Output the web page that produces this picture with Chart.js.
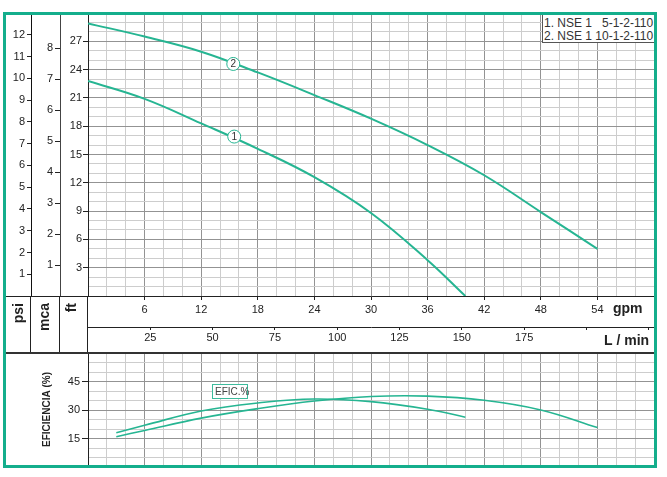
<!DOCTYPE html>
<html>
<head>
<meta charset="utf-8">
<script src="https://cdn.jsdelivr.net/npm/chart.js@4.4.1/dist/chart.umd.min.js"></script>
<style>
  body { margin: 0; background: #fff; width: 667px; height: 477px; overflow: hidden; position: relative; }
  #frame { position: absolute; left: 3px; top: 12px; width: 648px; height: 450px; border: 3px solid #14ae8c; z-index: 5; pointer-events: none; }
  #mainChart { position: absolute; left: 6px; top: 13px; }
  #effChart { position: absolute; left: 6px; top: 352px; }
  #legendBox { position: absolute; left: 542px; top: 15px; width: 111px; height: 25px; background: #fff;
    border-left: 1px solid #555; border-bottom: 1px solid #555; z-index: 3;
    font: 12px "Liberation Sans", Arial, sans-serif; color: #333; line-height: 13px; padding: 2px 0 0 1px; white-space: pre; }
  #eficBox { position: absolute; left: 212px; top: 384px; width: 32px; height: 13px; background: #fff;
    border: 1px solid #3dbb9c; z-index: 3; font: 10px "Liberation Sans", Arial, sans-serif; color: #444;
    line-height: 14px; padding-left: 2px; white-space: nowrap; }
</style>
</head>
<body>
<canvas id="mainChart" width="648" height="339"></canvas>
<canvas id="effChart" width="648" height="115"></canvas>
<div id="legendBox">1. NSE 1   5-1-2-110
2. NSE 1 10-1-2-110</div>
<div id="eficBox">EFIC.%</div>
<div id="frame"></div>
<script>
// curve names (legend)
const curveNames = ['NSE 1 5-1-2-110', 'NSE 1 10-1-2-110'];

// head curves: flow in gpm, head in ft
const gpm1 = [0, 6, 12, 18, 24, 30, 36, 40];
const head1 = [22.8, 20.9, 18.3, 15.6, 12.6, 8.8, 3.8, 0];
const gpm2 = [0, 6, 12, 18, 24, 30, 36, 42, 48, 54];
const head2 = [28.9, 27.5, 25.9, 23.7, 21.3, 18.8, 16.0, 12.8, 8.9, 5.0];

// circled curve numbers sit on the curves at these points
const markerText = ['1', '2'];
const markerGpm = [15.5, 15.4];
const markerHead = [16.9, 24.6];

// efficiency curves (%)
const effGpm1 = [3, 6, 12, 18, 24, 30, 36, 40];
const eff1 = [18.1, 22.0, 29.6, 33.8, 35.9, 34.5, 30.5, 26.3];
const effGpm2 = [3, 6, 12, 18, 24, 30, 36, 42, 48, 54];
const eff2 = [16.0, 19.3, 25.8, 30.8, 34.8, 37.2, 37.4, 35.2, 30.1, 20.8];

// axis ranges
const gpmMax = 60;
const ftMax = 30;
const effMax = 60.7;
const lminMax = gpmMax * 3.78541;
const psiMax = ftMax / 2.30666;
const mcaMax = ftMax / 3.28084;

const GREEN = '#26b592';
const DARK_GRID = '#939393';
const LIGHT_GRID = '#cdcdcd';
const INK = '#222';
const NONE = 'rgba(0,0,0,0)';

Chart.defaults.font.family = '"Liberation Sans", Arial, sans-serif';
Chart.defaults.font.size = 11;
Chart.defaults.color = INK;

function toPoints(xs, ys) {
    return xs.map((x, i) => ({ x: x, y: ys[i] }));
}

// force axis box sizes so the columns line up with the picture
function fixSize(w, h) {
    return function (scale) {
        if (w !== null) scale.width = w;
        if (h !== null) scale.height = h;
        scale.paddingTop = 0;
        scale.paddingBottom = 0;
        scale.paddingLeft = 0;
        scale.paddingRight = 0;
    };
}

const curveLine = {
    borderColor: GREEN,
    borderWidth: 2,
    pointRadius: 0,
    fill: false,
    tension: 0.4
};

// extra lines, cell labels and circled numbers
const mainDecor = {
    id: 'mainDecor',
    afterDraw(chart) {
        const ctx = chart.ctx;
        const area = chart.chartArea;
        const sc = chart.scales;
        ctx.save();
        ctx.strokeStyle = INK;
        ctx.lineWidth = 1;
        ctx.beginPath();
        [sc.yPsi.right, sc.yMca.right, sc.y.right].forEach(x => {
            const px = Math.round(x) - 0.5;
            ctx.moveTo(px, area.bottom);
            ctx.lineTo(px, chart.height);
        });
        ctx.moveTo(0, Math.round(area.bottom) + 0.5);
        ctx.lineTo(area.left, Math.round(area.bottom) + 0.5);
        ctx.stroke();

        // unit cells
        ctx.fillStyle = INK;
        ctx.font = 'bold 14px "Liberation Sans", Arial, sans-serif';
        ctx.textAlign = 'right';
        ctx.textBaseline = 'middle';
        [['psi', 13.5], ['mca', 39], ['ft', 66]].forEach(([t, x]) => {
            ctx.save();
            ctx.translate(x, area.bottom + 7);
            ctx.rotate(-Math.PI / 2);
            ctx.fillText(t, 0, 0);
            ctx.restore();
        });
        ctx.textAlign = 'left';
        ctx.textBaseline = 'alphabetic';
        ctx.fillText('gpm', 607, 300);
        ctx.fillText('L / min', 598, 332);

        // circled curve numbers
        ctx.font = '10px "Liberation Sans", Arial, sans-serif';
        ctx.textAlign = 'center';
        ctx.textBaseline = 'middle';
        markerText.forEach((t, i) => {
            const x = sc.x.getPixelForValue(markerGpm[i]);
            const y = sc.y.getPixelForValue(markerHead[i]);
            ctx.beginPath();
            ctx.arc(x, y, 6.5, 0, Math.PI * 2);
            ctx.fillStyle = '#fff';
            ctx.fill();
            ctx.strokeStyle = GREEN;
            ctx.lineWidth = 1;
            ctx.stroke();
            ctx.fillStyle = '#333';
            ctx.fillText(t, x, y + 0.5);
        });
        ctx.restore();
    }
};

new Chart(document.getElementById('mainChart'), {
    type: 'line',
    data: {
        datasets: [
            Object.assign({ label: curveNames[0], data: toPoints(gpm1, head1) }, curveLine),
            Object.assign({ label: curveNames[1], data: toPoints(gpm2, head2) }, curveLine)
        ]
    },
    options: {
        responsive: false,
        animation: false,
        layout: { padding: 0, autoPadding: false },
        plugins: { legend: { display: false }, tooltip: { enabled: false } },
        scales: {
            x: {
                type: 'linear', position: 'bottom', weight: 0,
                min: 0, max: gpmMax,
                afterFit: fixSize(null, 31),
                border: { display: true, color: INK },
                grid: {
                    color: c => (c.tick && c.tick.value % 6 === 0) ? DARK_GRID : LIGHT_GRID,
                    tickColor: c => (c.tick && c.tick.value % 6 === 0 && c.tick.value > 0 && c.tick.value < gpmMax) ? INK : NONE,
                    tickLength: 4
                },
                ticks: {
                    stepSize: 2, includeBounds: false, autoSkip: false, maxRotation: 0, padding: 3,
                    callback: v => (v % 6 === 0 && v > 0 && v < gpmMax) ? String(v) : ''
                }
            },
            xL: {
                type: 'linear', position: 'bottom', weight: 1,
                min: 0, max: lminMax,
                afterFit: fixSize(null, 25),
                border: { display: true, color: INK },
                grid: {
                    drawOnChartArea: false,
                    tickColor: c => (c.tick && c.tick.value > 0) ? INK : NONE,
                    tickLength: 3
                },
                ticks: {
                    stepSize: 25, includeBounds: false, autoSkip: false, maxRotation: 0, padding: 1,
                    callback: v => (v > 0 && v <= 175) ? String(v) : ''
                }
            },
            y: {
                type: 'linear', position: 'left', weight: 0,
                min: 0, max: ftMax,
                afterFit: fixSize(28, null),
                border: { display: true, color: INK },
                grid: {
                    color: c => (c.tick && c.tick.value % 3 === 0) ? DARK_GRID : LIGHT_GRID,
                    tickColor: c => (c.tick && c.tick.value % 3 === 0 && c.tick.value > 0 && c.tick.value < ftMax) ? INK : NONE,
                    tickLength: 5
                },
                ticks: {
                    stepSize: 1, includeBounds: false, autoSkip: false, padding: 1,
                    callback: v => (v % 3 === 0 && v > 0 && v < ftMax) ? String(v) : ''
                }
            },
            yMca: {
                type: 'linear', position: 'left', weight: 1,
                min: 0, max: mcaMax,
                afterFit: fixSize(29, null),
                border: { display: true, color: '#444' },
                grid: {
                    drawOnChartArea: false,
                    tickColor: c => (c.tick && c.tick.value > 0 && c.tick.value <= 8) ? INK : NONE,
                    tickLength: 5
                },
                ticks: {
                    stepSize: 1, includeBounds: false, autoSkip: false, padding: 2,
                    callback: v => (v > 0 && v <= 8) ? String(v) : ''
                }
            },
            yPsi: {
                type: 'linear', position: 'left', weight: 2,
                min: 0, max: psiMax,
                afterFit: fixSize(25, null),
                border: { display: true, color: '#111' },
                grid: {
                    drawOnChartArea: false,
                    tickColor: c => (c.tick && c.tick.value > 0 && c.tick.value <= 12) ? INK : NONE,
                    tickLength: 4
                },
                ticks: {
                    stepSize: 1, includeBounds: false, autoSkip: false, padding: 2,
                    callback: v => (v > 0 && v <= 12) ? String(v) : ''
                }
            }
        }
    },
    plugins: [mainDecor]
});

// thick separator on top of the efficiency panel
const effDecor = {
    id: 'effDecor',
    afterDraw(chart) {
        const ctx = chart.ctx;
        ctx.save();
        ctx.fillStyle = '#333';
        ctx.fillRect(0, 0, chart.width, 2);
        ctx.restore();
    }
};

const effLine = Object.assign({}, curveLine, { borderWidth: 1.6 });

new Chart(document.getElementById('effChart'), {
    type: 'line',
    data: {
        datasets: [
            Object.assign({ label: curveNames[0], data: toPoints(effGpm1, eff1) }, effLine),
            Object.assign({ label: curveNames[1], data: toPoints(effGpm2, eff2) }, effLine)
        ]
    },
    options: {
        responsive: false,
        animation: false,
        layout: { padding: 0, autoPadding: false },
        plugins: { legend: { display: false }, tooltip: { enabled: false } },
        scales: {
            x: {
                type: 'linear', position: 'bottom',
                min: 0, max: gpmMax,
                afterFit: fixSize(null, 0),
                border: { display: false },
                grid: {
                    color: c => (c.tick && c.tick.value % 6 === 0) ? DARK_GRID : LIGHT_GRID,
                    drawTicks: false
                },
                ticks: { display: false, stepSize: 2, includeBounds: false, autoSkip: false }
            },
            y: {
                type: 'linear', position: 'left',
                min: 0, max: effMax,
                afterFit: fixSize(82, null),
                border: { display: true, color: INK },
                title: {
                    display: true,
                    text: 'EFICIENCIA (%)',
                    font: { size: 10, weight: 'bold' },
                    color: INK,
                    padding: { top: 35, bottom: 0 }
                },
                grid: {
                    color: c => (c.tick && c.tick.value % 15 === 0) ? DARK_GRID : LIGHT_GRID,
                    tickColor: c => (c.tick && c.tick.value % 15 === 0 && c.tick.value > 0 && c.tick.value < 60) ? INK : NONE,
                    tickLength: 6
                },
                ticks: {
                    stepSize: 5, includeBounds: false, autoSkip: false, padding: 2,
                    callback: v => (v % 15 === 0 && v > 0 && v < 60) ? String(v) : ''
                }
            }
        }
    },
    plugins: [effDecor]
});
</script>
</body>
</html>
